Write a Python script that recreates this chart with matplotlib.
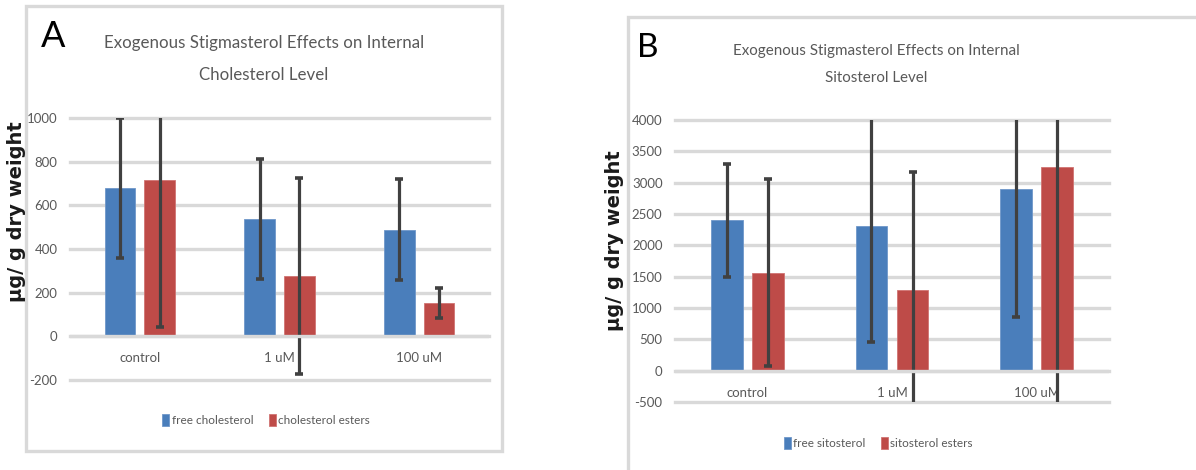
import matplotlib.pyplot as plt
from matplotlib.patches import Rectangle

# sterol levels, ug / g dry weight (mean and error)
categories = ['control', '1 uM', '100 uM']

chol_free = [680, 538, 488]
chol_free_err = [320, 274, 232]
chol_esters = [716, 277, 152]
chol_esters_err = [673, 450, 68]

sito_free = [2400, 2304, 2891]
sito_free_err = [900, 1851, 2038]
sito_esters = [1563, 1291, 3253]
sito_esters_err = [1490, 1872, 3800]

chol_ticks = [-200, 0, 200, 400, 600, 800, 1000]
sito_ticks = [-500, 0, 500, 1000, 1500, 2000, 2500, 3000, 3500, 4000]

BLUE = '#4a7ebb'
RED = '#be4b48'
GRID = '#d9d9d9'
TXT = '#595959'
ERR = '#404040'

plt.rcParams['font.family'] = ['Lato', 'DejaVu Sans']

fig = plt.figure(figsize=(11.96, 4.70), dpi=100)


def draw_panel(ax, free, free_err, esters, esters_err, ticks, labels, title,
               legend_y, title_y, title_size, label_pad):
    # category axis sits on the zero line
    for s in ax.spines.values():
        s.set_visible(False)
    ax.spines['bottom'].set_position(('data', 0))

    x = range(len(categories))
    off = 0.142
    w = 0.218
    xb = [i - off for i in x]
    xr = [i + off for i in x]
    ax.bar(xb, free, width=w, color=BLUE, edgecolor='#6f97c9', linewidth=0.6,
           zorder=2, label=labels[0])
    ax.bar(xr, esters, width=w, color=RED, edgecolor='#d07472', linewidth=0.6,
           zorder=2, label=labels[1])
    for xs, ys, es in [(xb, free, free_err), (xr, esters, esters_err)]:
        ax.errorbar(xs, ys, yerr=es, fmt='none', ecolor=ERR, elinewidth=2.3,
                    capsize=2.6, capthick=2.6, zorder=3)

    ax.set_xlim(-0.5, len(categories) - 0.5)
    ax.set_ylim(ticks[0], ticks[-1])
    ax.set_yticks(ticks)
    ax.set_yticklabels([str(t) for t in ticks])
    ax.set_xticks(list(x))
    ax.set_xticklabels(categories)
    ax.tick_params(length=0, labelcolor=TXT)
    ax.tick_params(axis='x', pad=label_pad, labelsize=9.5)
    ax.tick_params(axis='y', pad=9, labelsize=9.5)

    ax.grid(axis='y', color=GRID, linewidth=2.4, zorder=0)
    ax.grid(axis='x', visible=False)
    ax.set_axisbelow(True)
    for gl in ax.get_ygridlines():
        gl.set_clip_on(False)
    ax.axhline(0, color=GRID, linewidth=2.4, zorder=4)

    ax.text(0.463, title_y, title, transform=ax.transAxes, ha='center',
            va='center', fontsize=title_size, color=TXT, linespacing=2.25)
    ax.legend(loc='center', bbox_to_anchor=(0.468, legend_y), ncol=2,
              frameon=False, fontsize=8.5, labelcolor=TXT, handlelength=0.6,
              handleheight=1.2, handletextpad=0.2, columnspacing=1.3)


# panel A frame and axes
fig.add_artist(Rectangle((26 / 1196, 1 - 451 / 470), 476 / 1196, 445 / 470,
                         transform=fig.transFigure, fill=False,
                         edgecolor=GRID, linewidth=2.4))
axA = fig.add_axes([0.0585, 0.1915, 0.3504, 0.5575])
draw_panel(axA, chol_free, chol_free_err, chol_esters, chol_esters_err,
           chol_ticks, ['free cholesterol', 'cholesterol esters'],
           'Exogenous Stigmasterol Effects on Internal\nCholesterol Level',
           -0.153, 1.225, 12.2, 11)

# panel B frame and axes (runs off the right and bottom edge)
fig.add_artist(Rectangle((628 / 1196, -0.1), 0.6, 1.1 - 17 / 470,
                         transform=fig.transFigure, fill=False,
                         edgecolor=GRID, linewidth=2.4, clip_on=False))
axB = fig.add_axes([0.5644, 0.1447, 0.3629, 0.6])
draw_panel(axB, sito_free, sito_free_err, sito_esters, sito_esters_err,
           sito_ticks, ['free sitosterol', 'sitosterol esters'],
           'Exogenous Stigmasterol Effects on Internal\nSitosterol Level',
           -0.145, 1.197, 10.9, 12)

# panel letters and y labels
fig.text(0.0443, 0.923, 'A', fontsize=26, ha='center', va='center')
fig.text(0.5418, 0.898, 'B', fontsize=24, ha='center', va='center')
for xp, yp in [(0.0142, 0.549), (0.5142, 0.487)]:
    fig.text(xp, yp, 'µg/ g dry weight', rotation=90, ha='center',
             va='center', fontsize=14, fontweight='bold',
             family='DejaVu Sans', color='#1a1a1a')

fig.savefig('out.png', dpi=100)
